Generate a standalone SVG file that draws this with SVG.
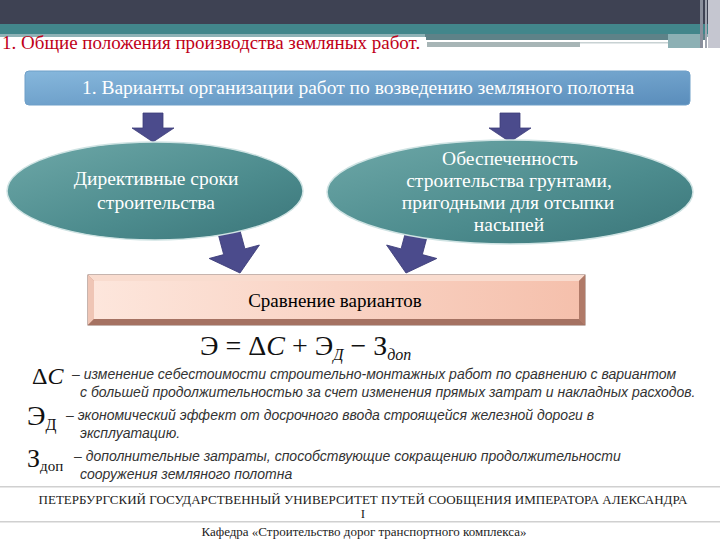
<svg xmlns="http://www.w3.org/2000/svg" width="720" height="540" viewBox="0 0 720 540">
<defs>
<linearGradient id="gBlue" x1="0" y1="0" x2="1" y2="1">
<stop offset="0" stop-color="#86b7dc"/>
<stop offset="1" stop-color="#5a8dbb"/>
</linearGradient>
<linearGradient id="gTeal" x1="0" y1="0" x2="1" y2="1">
<stop offset="0" stop-color="#6ea8a8"/>
<stop offset="0.6" stop-color="#4c8b8d"/>
<stop offset="1" stop-color="#3a7579"/>
</linearGradient>
<linearGradient id="gPeach" x1="0" y1="0" x2="1" y2="0">
<stop offset="0" stop-color="#fde6dc"/>
<stop offset="1" stop-color="#f5c0ac"/>
</linearGradient>
<path id="arrS" d="M-10,-29 H10 V-14 H21 L0,0 L-21,-14 H-10 Z"/>
<path id="arrL" d="M-11,-45 H11 V-22 H26 L0,0 L-26,-22 H-11 Z"/>
</defs>
<style>
.sf{font-family:'Liberation Serif','DejaVu Serif',serif}
.wt{fill:#ffffff;font-size:19.5px;text-anchor:middle}
.leg{fill:#333333;font-size:14px;font-style:italic;font-family:'Liberation Sans',Arial,sans-serif}
.arrow{fill:#4b4b8c;stroke:#3c3c78;stroke-width:0.8}
.foot{fill:#222222;font-size:13px;text-anchor:middle}
</style>
<g id="header">
<rect x="0" y="0" width="720" height="24" fill="#3e4253"/>
<rect x="0" y="24" width="720" height="10" fill="#42868b"/>
<rect x="0" y="34" width="720" height="3" fill="#8fb2b6"/>
<rect x="425" y="34" width="282" height="6" fill="#5e8288"/>
<rect x="0" y="37" width="426" height="18" fill="#ffffff"/>
<rect x="427" y="40" width="240" height="2" fill="#ffffff"/>
<rect x="427" y="42" width="153" height="5" fill="#a7b5b6"/>
<rect x="580" y="42" width="88" height="1.5" fill="#c8d2d3"/>
<rect x="668" y="34" width="34" height="14" fill="#8cb0b4"/>
<rect x="700" y="0" width="3" height="48" fill="#8a8f9c"/>
<rect x="705" y="0" width="2" height="48" fill="#a0a5b0"/>
<rect x="708" y="0" width="12" height="48" fill="#c5c6d0"/>
<text class="sf" x="2" y="49" font-size="19" fill="#c00018">1. Общие положения производства земляных работ.</text>
</g>
<g id="connectors">
<use href="#arrS" class="arrow" transform="translate(153,142)"/>
<use href="#arrS" class="arrow" transform="translate(510,142)"/>
<use href="#arrL" class="arrow" transform="translate(240,273) rotate(-15)"/>
<use href="#arrL" class="arrow" transform="translate(406,273) rotate(15)"/>
</g>
<g id="node-top">
<rect x="25" y="71" width="665" height="34" rx="4" fill="url(#gBlue)" stroke="#6f9fc8" stroke-width="1"/>
<text class="sf wt" x="358" y="94" font-size="18.7">1. Варианты организации работ по возведению земляного полотна</text>
</g>
<g id="node-left">
<ellipse cx="155" cy="191" rx="148" ry="49" fill="url(#gTeal)" stroke="#cfe3e3" stroke-width="1.5"/>
<text class="sf wt" x="156" y="185">Директивные сроки</text>
<text class="sf wt" x="156" y="209">строительства</text>
</g>
<g id="node-right">
<ellipse cx="510" cy="192" rx="183" ry="52" fill="url(#gTeal)" stroke="#cfe3e3" stroke-width="1.5"/>
<text class="sf wt" x="510" y="165">Обеспеченность</text>
<text class="sf wt" x="509" y="187">строительства грунтами,</text>
<text class="sf wt" x="508" y="209">пригодными для отсыпки</text>
<text class="sf wt" x="509" y="231">насыпей</text>
</g>
<g id="node-compare">
<rect x="88" y="275" width="497" height="50" fill="#c8907c" stroke="#8e6a5e" stroke-width="1"/>
<polygon points="88,275 585,275 579,281 94,281" fill="#f9dccf"/>
<polygon points="88,275 94,281 94,319 88,325" fill="#efc5b5"/>
<polygon points="585,275 579,281 579,319 585,325" fill="#b07a68"/>
<polygon points="88,325 94,319 579,319 585,325" fill="#a57262"/>
<rect x="94" y="281" width="485" height="38" fill="url(#gPeach)"/>
<text class="sf" x="335" y="307" font-size="19" fill="#000000" text-anchor="middle">Сравнение вариантов</text>
</g>
<g id="formula" fill="#111111">
<text class="sf" x="200" y="355" font-size="28">Э = Δ<tspan font-style="italic">C</tspan> + Э<tspan font-size="16" dy="5" font-style="italic">Д</tspan><tspan dy="-5"> − З</tspan><tspan font-size="16" dy="5" font-style="italic">доп</tspan></text>
</g>
<g id="legend">
<text class="sf" x="32" y="384" font-size="24" fill="#111">Δ<tspan font-style="italic">C</tspan></text>
<text class="sf" x="27" y="425" font-size="28" fill="#111">Э<tspan font-size="16" dy="5">Д</tspan></text>
<text class="sf" x="27" y="467" font-size="26" fill="#111">З<tspan font-size="15" dy="4">доп</tspan></text>
<text class="leg" x="72" y="379">– изменение себестоимости строительно-монтажных работ по сравнению  с вариантом</text>
<text class="leg" x="80" y="397">с большей продолжительностью за счет изменения прямых затрат и накладных расходов.</text>
<text class="leg" x="66" y="420">– экономический эффект от досрочного ввода строящейся железной дороги в</text>
<text class="leg" x="80" y="438">эксплуатацию.</text>
<text class="leg" x="74" y="461">– дополнительные затраты, способствующие сокращению продолжительности</text>
<text class="leg" x="80" y="479">сооружения земляного полотна</text>
</g>
<g id="footer">
<rect x="0" y="486" width="720" height="1.5" fill="#d0d0d0"/>
<text class="sf foot" x="363" y="504">ПЕТЕРБУРГСКИЙ ГОСУДАРСТВЕННЫЙ УНИВЕРСИТЕТ ПУТЕЙ СООБЩЕНИЯ ИМПЕРАТОРА АЛЕКСАНДРА</text>
<text class="sf foot" x="363" y="518">I</text>
<rect x="0" y="521" width="720" height="1.5" fill="#d0d0d0"/>
<text class="sf foot" x="364" y="536">Кафедра «Строительство дорог транспортного комплекса»</text>
</g>
</svg>
